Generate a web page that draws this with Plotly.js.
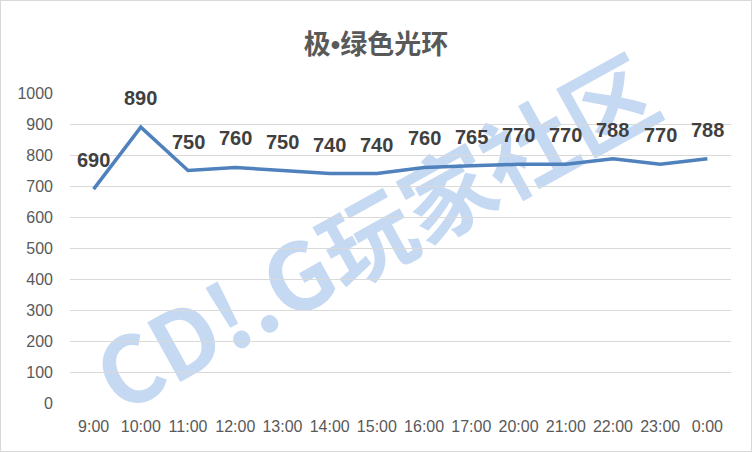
<!DOCTYPE html>
<html>
<head>
<meta charset="utf-8">
<script src="https://cdn.plot.ly/plotly-3.0.1.min.js"></script>
<style>
html,body{margin:0;padding:0;background:#fff;}
#wrap{position:absolute;left:0;top:0;width:750px;height:450px;border:1px solid #d9d9d9;}
#chart{width:750px;height:450px;}
</style>
</head>
<body>
<div id="wrap"><div id="chart"></div></div>
<script>
const categories = ["9:00","10:00","11:00","12:00","13:00","14:00","15:00","16:00","17:00","20:00","21:00","22:00","23:00","0:00"];
const values = [690,890,750,760,750,740,740,760,765,770,770,788,770,788];
const yTicks = [0,100,200,300,400,500,600,700,800,900,1000];
const titleParts = ["极", "•", "绿色光环"];
const watermarkText = "CD!.G玩家社区";

const trace = {
  x: categories,
  y: values,
  type: "scatter",
  mode: "lines",
  line: {color: "#4f81bd", width: 3.5},
  hoverinfo: "skip"
};

const labelAnnotations = categories.map((c, i) => ({
  x: c, y: values[i], xref: "x", yref: "y",
  text: String(values[i]),
  showarrow: false,
  yshift: 29,
  font: {family: "Liberation Sans, Arial, sans-serif", size: 20, color: "#404040", weight: "bold"}
}));

const layout = {
  width: 750, height: 450,
  margin: {l: 69, r: 20, t: 92, b: 48},
  paper_bgcolor: "#ffffff",
  plot_bgcolor: "rgba(0,0,0,0)",
  showlegend: false,
  title: {
    text: "<b>" + titleParts[0] + "<span style='font-family:Liberation Sans'>" + titleParts[1] + "</span>" + titleParts[2] + "</b>",
    x: 0.5, xref: "container", xanchor: "center",
    y: 1 - 44/450, yref: "container", yanchor: "middle",
    font: {family: "Noto Sans CJK SC, sans-serif", size: 27, color: "#595959"}
  },
  xaxis: {
    type: "category",
    categoryorder: "array",
    categoryarray: categories,
    range: [-0.5, categories.length - 0.5],
    showgrid: false,
    zeroline: false,
    showline: false,
    ticks: "",
    ticklabelstandoff: 12,
    tickfont: {family: "Liberation Sans, Arial, sans-serif", size: 16, color: "#595959"},
    fixedrange: true
  },
  yaxis: {
    range: [0, 1000],
    tickvals: yTicks,
    ticktext: yTicks.map(String),
    showgrid: true,
    gridcolor: "#d9d9d9",
    gridwidth: 1,
    zeroline: false,
    showline: false,
    ticks: "",
    ticklabelstandoff: 16,
    tickfont: {family: "Liberation Sans, Arial, sans-serif", size: 16, color: "#595959"},
    fixedrange: true
  },
  shapes: [{
    type: "rect", xref: "paper", yref: "paper",
    x0: 0.32, x1: 0.62, y0: 0.40, y1: 0.64,
    line: {width: 0}, fillcolor: "rgba(0,0,0,0)",
    layer: "between",
    label: {
      text: "<b>" + watermarkText + "</b>",
      textangle: -29,
      textposition: "middle center",
      font: {family: "Noto Sans CJK SC, sans-serif", size: 92, color: "#c6d9f3"}
    }
  }],
  annotations: labelAnnotations
};

Plotly.newPlot("chart", [trace], layout, {displayModeBar: false, staticPlot: true});
</script>
</body>
</html>
